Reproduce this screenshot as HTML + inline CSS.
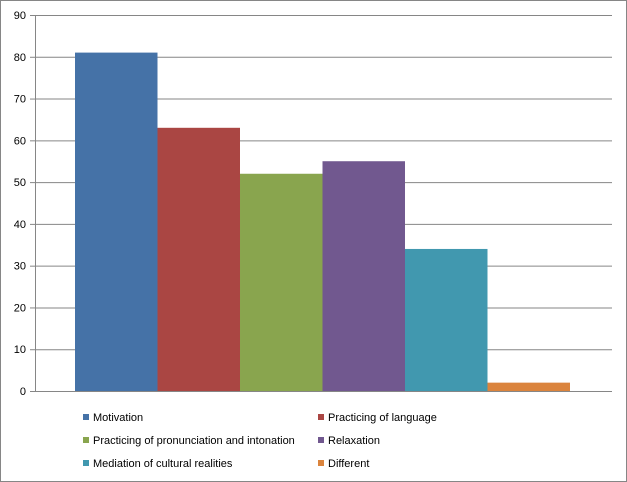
<!DOCTYPE html>
<html><head><meta charset="utf-8"><style>
body{margin:0;background:#fff}
svg{display:block;font-family:"Liberation Sans",sans-serif}
</style></head><body>
<svg width="627" height="482" viewBox="0 0 627 482">
<rect x="0.5" y="0.5" width="626" height="481" fill="#fff" stroke="#868686"/>
<g id="grid"></g>
<g id="bars"></g>
<g id="yaxis"></g>
<g id="legend"></g>
</svg>
<script>
const series = ["Motivation","Practicing of language","Practicing of pronunciation and intonation","Relaxation","Mediation of cultural realities","Different"];
const values = [81,63,52,55,34,2];
const colors = ["#4572a7","#aa4643","#89a54e","#71588f","#4198af","#db843d"];
const yTicks = [0,10,20,30,40,50,60,70,80,90];
const NS="http://www.w3.org/2000/svg";
const X0=35,X1=612,Y0=391,Y1=15,YMAX=90;
const y=v=>Y0-(Y0-Y1)*v/YMAX;
const groupL=75,groupR=570;
const bw=(groupR-groupL)/series.length;
const x=i=>groupL+i*bw;
function mk(t,a){const e=document.createElementNS(NS,t);for(const k in a)e.setAttribute(k,a[k]);return e;}
const grid=document.getElementById('grid'),yax=document.getElementById('yaxis');
yTicks.forEach(t=>{
  const l=mk('line',{x1:X0,x2:X1,y1:y(t)+0.5,y2:y(t)+0.5,stroke:'#868686','stroke-width':1});
  
  
  grid.appendChild(l);
  const tk=mk('line',{x1:X0-5,x2:X0,y1:y(t)+0.5,y2:y(t)+0.5,stroke:'#868686'});
  
  
  yax.appendChild(tk);
  const tx=mk('text',{x:X0-9,y:y(t)+4,'text-anchor':'end','font-size':11,fill:'#000'});
  tx.textContent=t;
  
  
  yax.appendChild(tx);
});
const ax=mk('line',{x1:X0+0.5,x2:X0+0.5,y1:Y1,y2:Y0+1,stroke:'#868686'});


yax.appendChild(ax);
const bars=document.getElementById('bars');
values.forEach((v,i)=>{
  const r=mk('rect',{x:x(i),y:y(v),width:bw,height:Y0-y(v),fill:colors[i]});
  
  
  bars.appendChild(r);
});
const leg=document.getElementById('legend');
const lx=[83,318],ly=[417,440,463];
series.forEach((s,i)=>{
  const cx=lx[i%2],cy=ly[Math.floor(i/2)];
  const g=mk('g',{});
  
  
  g.appendChild(mk('rect',{x:cx,y:cy-3,width:6,height:6,fill:colors[i]}));
  const t=mk('text',{x:cx+10,y:cy+4,'font-size':11,fill:'#000'});
  t.textContent=s;
  g.appendChild(t);
  leg.appendChild(g);
});
</script>
</body></html>
